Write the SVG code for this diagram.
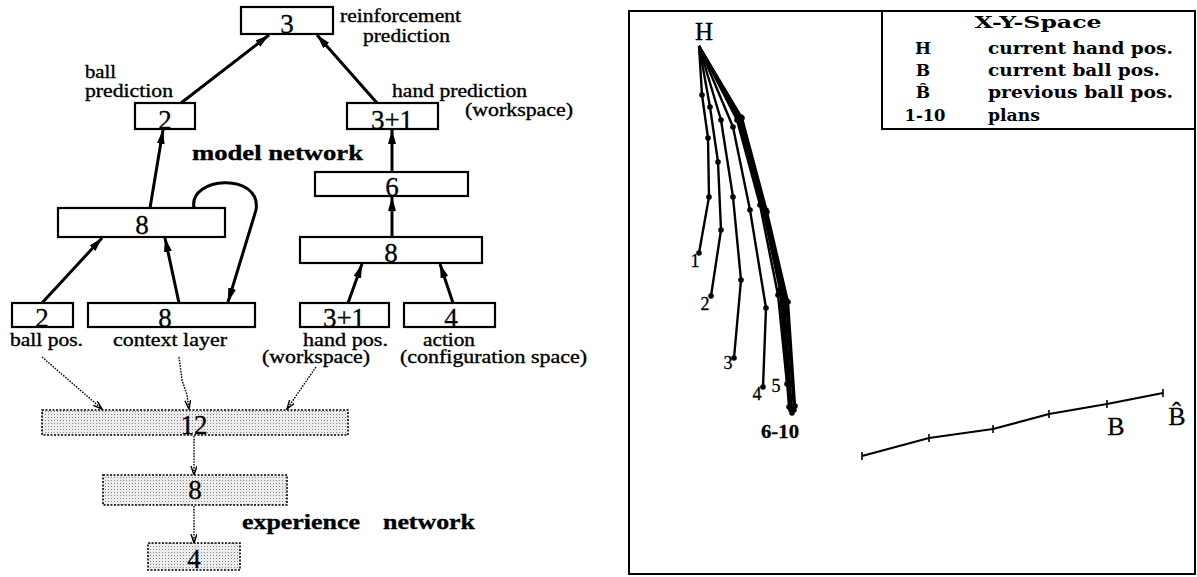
<svg xmlns="http://www.w3.org/2000/svg" width="1197" height="577" viewBox="0 0 1197 577">
<style>
.box{fill:#fff;stroke:#000;stroke-width:2.2}
.dbox{fill:url(#stip);stroke:#000;stroke-width:1.6;stroke-dasharray:2 1.5}
.num{font-family:"Liberation Serif",serif;font-size:27px;text-anchor:middle;fill:#000;stroke:#000;stroke-width:0.3}
.lbl{font-family:"Liberation Serif",serif;font-size:18px;fill:#000;stroke:#000;stroke-width:0.35}
.b{font-weight:bold}
.arr{stroke:#000;stroke-width:3;fill:none;marker-end:url(#ah)}
.darr{stroke:#000;stroke-width:1.4;stroke-dasharray:1.6 1.2;fill:none;marker-end:url(#dah)}
.leg{font-family:"DejaVu Serif",serif;font-size:17px;font-weight:bold;fill:#000}
.plan{stroke:#000;stroke-width:2.4;fill:none;stroke-linejoin:round;marker-mid:url(#dot);marker-end:url(#dot)}
.ball{stroke:#000;stroke-width:2.2;fill:none;marker-start:url(#tick);marker-mid:url(#tick);marker-end:url(#tick)}
.pl{font-family:"Liberation Serif",serif;font-size:18px;text-anchor:middle;fill:#000;stroke:#000;stroke-width:0.3}
</style>
<defs>
<pattern id="stip" width="3" height="3" patternUnits="userSpaceOnUse">
<rect width="3" height="3" fill="#ececec"/>
<rect x="0" y="0" width="1" height="1" fill="#8a8a8a"/>
</pattern>
<marker id="ah" markerUnits="userSpaceOnUse" markerWidth="16" markerHeight="10" refX="14" refY="4" orient="auto">
<path d="M0,0 L14,4 L0,8 z" fill="#000"/>
</marker>
<marker id="dah" markerUnits="userSpaceOnUse" markerWidth="12" markerHeight="8" refX="9" refY="3" orient="auto">
<path d="M0,0 L9,3 L0,6" fill="none" stroke="#000" stroke-width="1.4"/>
</marker>
<marker id="dot" markerUnits="userSpaceOnUse" markerWidth="8" markerHeight="8" refX="4" refY="4">
<circle cx="4" cy="4" r="2.8" fill="#000"/>
</marker>
<marker id="tick" markerUnits="userSpaceOnUse" markerWidth="4" markerHeight="10" refX="2" refY="5">
<path d="M2,1 L2,9" stroke="#000" stroke-width="1.6"/>
</marker>
</defs>

<!-- left: network diagram -->
<g id="connectors">
<path class="arr" d="M181,103 L269,35"/>
<path class="arr" d="M377,103 L317,35"/>
<path class="arr" d="M150,208 L163,130"/>
<path class="arr" d="M392,172 L392,130"/>
<path class="arr" d="M392,237 L392,197"/>
<path class="arr" d="M42,303 L102,238"/>
<path class="arr" d="M179,303 L165,238"/>
<path class="arr" d="M194,208 C188,176 262,172 256,210 L228,302"/>
<path class="arr" d="M348,303 L362,264"/>
<path class="arr" d="M453,303 L440,264"/>
<path class="darr" d="M42,357 L102,409"/>
<path class="darr" d="M179,357 L182,380 L187,395 L189,409"/>
<path class="darr" d="M316,367 L287,409"/>
<path class="darr" d="M194,436 L194,475"/>
<path class="darr" d="M194,506 L194,543"/>
</g>

<g id="n_reinf">
<rect class="box" x="241" y="7" width="92" height="27"/>
<text class="num" x="287" y="33">3</text>
<text class="lbl" x="340" y="22" textLength="121" lengthAdjust="spacingAndGlyphs">reinforcement</text>
<text class="lbl" x="363" y="42" textLength="87" lengthAdjust="spacingAndGlyphs">prediction</text>
</g>
<g id="n_ballpred">
<rect class="box" x="135" y="103" width="60" height="26"/>
<text class="num" x="165" y="129">2</text>
<text class="lbl" x="85" y="78" textLength="31" lengthAdjust="spacingAndGlyphs">ball</text>
<text class="lbl" x="85" y="97" textLength="88" lengthAdjust="spacingAndGlyphs">prediction</text>
</g>
<g id="n_handpred">
<rect class="box" x="347" y="103" width="91" height="26"/>
<text class="num" x="392" y="129">3+1</text>
<text class="lbl" x="392" y="97" textLength="135" lengthAdjust="spacingAndGlyphs">hand prediction</text>
<text class="lbl" x="465" y="116" textLength="108" lengthAdjust="spacingAndGlyphs">(workspace)</text>
</g>
<g id="lbl_model">
<text class="lbl b" x="192" y="160" textLength="171" lengthAdjust="spacingAndGlyphs" style="font-size:21px">model  network</text>
</g>
<g id="n_hidden6">
<rect class="box" x="315" y="172" width="153" height="24"/>
<text class="num" x="392" y="196">6</text>
</g>
<g id="n_hidden8L">
<rect class="box" x="58" y="208" width="167" height="29"/>
<text class="num" x="142" y="234">8</text>
</g>
<g id="n_hidden8R">
<rect class="box" x="300" y="237" width="182" height="26"/>
<text class="num" x="391" y="262">8</text>
</g>
<g id="n_ballpos">
<rect class="box" x="12" y="303" width="61" height="24"/>
<text class="num" x="42" y="327">2</text>
<text class="lbl" x="10" y="346" textLength="73" lengthAdjust="spacingAndGlyphs">ball pos.</text>
</g>
<g id="n_context">
<rect class="box" x="88" y="303" width="167" height="24"/>
<text class="num" x="165" y="327">8</text>
<text class="lbl" x="113" y="346" textLength="114" lengthAdjust="spacingAndGlyphs">context layer</text>
</g>
<g id="n_handpos">
<rect class="box" x="300" y="303" width="89" height="24"/>
<text class="num" x="344" y="327">3+1</text>
<text class="lbl" x="303" y="346" textLength="85" lengthAdjust="spacingAndGlyphs">hand pos.</text>
<text class="lbl" x="262" y="363" textLength="108" lengthAdjust="spacingAndGlyphs">(workspace)</text>
</g>
<g id="n_action">
<rect class="box" x="404" y="303" width="91" height="24"/>
<text class="num" x="451" y="327">4</text>
<text class="lbl" x="423" y="346" textLength="52" lengthAdjust="spacingAndGlyphs">action</text>
<text class="lbl" x="400" y="363" textLength="187" lengthAdjust="spacingAndGlyphs">(configuration space)</text>
</g>
<g id="n_exp12">
<rect class="dbox" x="42" y="410" width="306" height="25"/>
<text class="num" x="194" y="434">12</text>
</g>
<g id="n_exp8">
<rect class="dbox" x="103" y="475" width="184" height="30"/>
<text class="num" x="195" y="499">8</text>
</g>
<g id="n_exp4">
<rect class="dbox" x="148" y="543" width="92" height="27"/>
<text class="num" x="194" y="568">4</text>
</g>
<g id="lbl_experience">
<text class="lbl b" x="242" y="529" textLength="118" lengthAdjust="spacingAndGlyphs" style="font-size:21px">experience</text>
<text class="lbl b" x="383" y="529" textLength="92" lengthAdjust="spacingAndGlyphs" style="font-size:21px">network</text>
</g>

<!-- right: X-Y space plot -->
<g id="plot">
<rect x="629" y="11" width="566" height="563" fill="none" stroke="#000" stroke-width="2"/>
<path d="M882,11 L882,129 L1195,129" fill="none" stroke="#000" stroke-width="2"/>
<text class="leg" x="1038" y="28" text-anchor="middle" textLength="127" lengthAdjust="spacingAndGlyphs">X-Y-Space</text>
<text class="leg" x="923" y="54" text-anchor="middle">H</text>
<text class="leg" x="988" y="54" textLength="185" lengthAdjust="spacingAndGlyphs">current hand pos.</text>
<text class="leg" x="923" y="76" text-anchor="middle">B</text>
<text class="leg" x="988" y="76" textLength="172" lengthAdjust="spacingAndGlyphs">current ball pos.</text>
<text class="leg" x="923" y="98" text-anchor="middle">B̂</text>
<text class="leg" x="988" y="98" textLength="185" lengthAdjust="spacingAndGlyphs">previous ball pos.</text>
<text class="leg" x="925" y="121" text-anchor="middle" textLength="41" lengthAdjust="spacingAndGlyphs">1-10</text>
<text class="leg" x="988" y="121" textLength="52" lengthAdjust="spacingAndGlyphs">plans</text>

<text class="pl" x="704" y="40" style="font-size:25px">H</text>
<polyline class="plan" points="699,46 702,95 708,138 709,197 699,253"/>
<polyline class="plan" points="699,46 710,107 718,162 721,230 711,296"/>
<polyline class="plan" points="699,46 721,120 733,197 741,280 734,358"/>
<polyline class="plan" points="699,46 733,127 750,210 766,308 763,387"/>
<polyline class="plan" points="699,46 737,120 760,205 778,295 787,384"/>
<polyline class="plan" points="699,46 738,118 762,205 780,290 789,407"/>
<polyline class="plan" points="699,46 739,117 763,207 782,295 791,410"/>
<polyline class="plan" points="699,46 740,118 764,208 784,298 792,413"/>
<polyline class="plan" points="699,46 741,117 766,210 786,300 794,410"/>
<polyline class="plan" points="699,46 742,118 767,212 788,302 795,406"/>
<text class="pl" x="695" y="267">1</text>
<text class="pl" x="705" y="310">2</text>
<text class="pl" x="728" y="369">3</text>
<text class="pl" x="757" y="400">4</text>
<text class="pl" x="776" y="392">5</text>
<text class="pl b" x="780" y="438" textLength="38" lengthAdjust="spacingAndGlyphs">6-10</text>

<polyline class="ball" points="862,456 929,438 993,429 1049,414 1107,404 1163,393"/>
<text class="pl" x="1116" y="435" style="font-size:26px">B</text>
<text class="pl" x="1177" y="425" style="font-size:26px">B̂</text>
</g>
</svg>
